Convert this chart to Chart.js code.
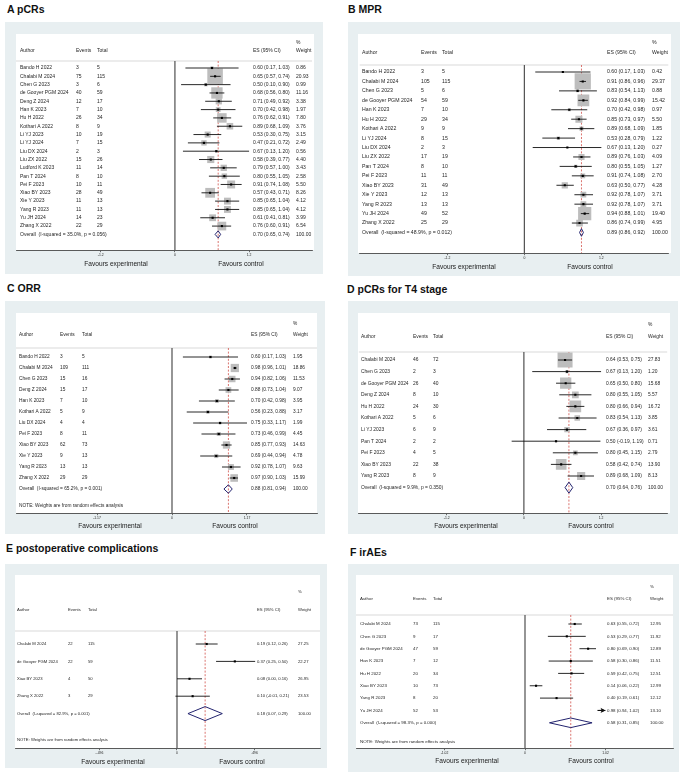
<!DOCTYPE html>
<html><head><meta charset="utf-8">
<script src="https://cdn.jsdelivr.net/npm/chart.js@4.4.1/dist/chart.umd.min.js"></script>
<style>
html,body{margin:0;padding:0;background:#fff;}
body{width:685px;height:775px;position:relative;overflow:hidden;font-family:"Liberation Sans",Arial,sans-serif;}
.title{position:absolute;font-weight:bold;font-size:10.5px;line-height:12px;color:#111;white-space:nowrap;}
.bg{position:absolute;background:#e8eff1;}
.plot{position:absolute;background:#fff;}
canvas{position:absolute;}
</style></head><body>
<script>
// ---------- A pCRs ----------
const authorsA = ['Bando H 2022','Chalabi M 2024','Chen G 2023','de Gooyer PGM 2024','Deng Z 2024','Han K 2023','Hu H 2022','Kothari A 2022','Li YJ 2023','Li YJ 2024','Liu DX 2024','Liu ZX 2022','Ludford K 2023','Pan T 2024','Pei F 2023','Xiao BY 2023','Xie Y 2023','Yang R 2023','Yu JH 2024','Zhang X 2022'];
const eventsA = [3,75,3,40,12,7,26,8,10,7,2,15,11,8,10,28,11,11,14,22];
const totalsA = [5,115,6,59,17,10,34,9,19,15,3,26,14,10,11,49,13,13,23,29];
const esA = [0.60,0.65,0.50,0.68,0.71,0.70,0.76,0.89,0.53,0.47,0.67,0.58,0.79,0.80,0.91,0.57,0.85,0.85,0.61,0.76];
const lowA = [0.17,0.57,0.10,0.56,0.49,0.42,0.62,0.68,0.30,0.21,0.13,0.39,0.57,0.55,0.74,0.43,0.65,0.65,0.41,0.60];
const highA = [1.03,0.74,0.90,0.80,0.92,0.98,0.91,1.09,0.75,0.72,1.20,0.77,1.00,1.05,1.08,0.71,1.04,1.04,0.81,0.91];
const weightA = [0.86,20.93,0.99,11.16,3.38,1.97,7.80,3.76,3.15,2.49,0.56,4.40,3.43,2.58,5.50,8.26,4.12,4.12,3.99,6.54];
const overallA = [0.70,0.65,0.74];
const hetA = 'Overall  (I-squared = 35.0%, p = 0.056)';
const ticksA = [-1.2,0,1.2];
const tickLabelsA = ['-1.2','0','1.2'];

// ---------- B MPR ----------
const authorsB = ['Bando H 2022','Chalabi M 2024','Chen G 2023','de Gooyer PGM 2024','Han K 2023','Hu H 2022','Kothari A 2022','Li YJ 2024','Liu DX 2024','Liu ZX 2022','Pan T 2024','Pei F 2023','Xiao BY 2023','Xie Y 2023','Yang R 2023','Yu JH 2024','Zhang X 2022'];
const eventsB = [3,105,5,54,7,29,9,8,2,17,8,11,31,12,13,49,25];
const totalsB = [5,115,6,59,10,34,9,15,3,19,10,11,49,13,13,52,29];
const esB = [0.60,0.91,0.83,0.92,0.70,0.85,0.89,0.53,0.67,0.89,0.80,0.91,0.63,0.92,0.92,0.94,0.86];
const lowB = [0.17,0.86,0.54,0.84,0.42,0.73,0.68,0.28,0.13,0.76,0.55,0.74,0.50,0.78,0.78,0.88,0.74];
const highB = [1.03,0.96,1.13,0.99,0.98,0.97,1.09,0.79,1.20,1.03,1.05,1.08,0.77,1.07,1.07,1.01,0.99];
const weightB = [0.42,29.37,0.88,15.42,0.97,5.50,1.85,1.22,0.27,4.09,1.27,2.70,4.28,3.71,3.71,19.40,4.95];
const overallB = [0.89,0.86,0.92];
const hetB = 'Overall  (I-squared = 48.9%, p = 0.012)';
const ticksB = [-1.2,0,1.2];
const tickLabelsB = ['-1.2','0','1.2'];

// ---------- C ORR ----------
const authorsC = ['Bando H 2022','Chalabi M 2024','Chen G 2023','Deng Z 2024','Han K 2023','Kothari A 2022','Liu DX 2024','Pei F 2023','Xiao BY 2023','Xie Y 2023','Yang R 2023','Zhang X 2022'];
const eventsC = [3,109,15,15,7,5,4,8,62,9,13,29];
const totalsC = [5,111,16,17,10,9,4,11,73,13,13,29];
const esC = [0.60,0.98,0.94,0.88,0.70,0.56,0.75,0.73,0.85,0.69,0.92,0.97];
const lowC = [0.17,0.96,0.82,0.73,0.42,0.23,0.33,0.46,0.77,0.44,0.78,0.90];
const highC = [1.03,1.01,1.06,1.04,0.98,0.88,1.17,0.99,0.93,0.94,1.07,1.03];
const weightC = [1.95,18.86,11.53,9.07,3.95,3.17,1.99,4.45,14.63,4.78,9.63,15.99];
const overallC = [0.88,0.81,0.94];
const hetC = 'Overall  (I-squared = 65.2%, p = 0.001)';
const ticksC = [-1.17,0,1.17];
const tickLabelsC = ['-1.17','0','1.17'];

// ---------- D pCRs for T4 stage ----------
const authorsD = ['Chalabi M 2024','Chen G 2023','de Gooyer PGM 2024','Deng Z 2024','Hu H 2022','Kothari A 2022','Li YJ 2023','Pan T 2024','Pei F 2023','Xiao BY 2023','Yang R 2023'];
const eventsD = [46,2,26,8,24,5,6,2,4,22,8];
const totalsD = [72,3,40,10,30,6,9,2,5,38,9];
const esD = [0.64,0.67,0.65,0.80,0.80,0.83,0.67,0.50,0.80,0.58,0.89];
const lowD = [0.53,0.13,0.50,0.55,0.66,0.54,0.36,-0.19,0.45,0.42,0.68];
const highD = [0.75,1.20,0.80,1.05,0.94,1.13,0.97,1.19,1.15,0.74,1.09];
const weightD = [27.83,1.20,15.68,5.57,16.72,3.85,3.61,0.71,2.79,13.90,8.13];
const overallD = [0.70,0.64,0.76];
const hetD = 'Overall  (I-squared = 9.9%, p = 0.350)';
const ticksD = [-1.2,0,1.2];
const tickLabelsD = ['-1.2','0','1.2'];

// ---------- E postoperative complications ----------
const authorsE = ['Chalabi M 2024','de Gooyer PGM 2024','Xiao BY 2023','Zhang X 2022'];
const eventsE = [22,22,4,3];
const totalsE = [115,59,50,29];
const esE = [0.19,0.37,0.08,0.10];
const lowE = [0.12,0.25,0.00,-0.01];
const highE = [0.26,0.50,0.16,0.21];
const weightE = [27.25,22.27,26.95,23.53];
const overallE = [0.18,0.07,0.29];
const hetE = 'Overall  (I-squared = 82.9%, p = 0.001)';
const ticksE = [-0.496,0,0.496];
const tickLabelsE = ['-.496','0','.496'];

// ---------- F irAEs ----------
const authorsF = ['Chalabi M 2024','Chen G 2023','de Gooyer PGM 2024','Han K 2023','Hu H 2022','Xiao BY 2023','Yang R 2023','Yu JH 2024'];
const eventsF = [73,9,47,7,20,10,8,52];
const totalsF = [115,17,59,12,34,73,20,53];
const esF = [0.63,0.53,0.80,0.58,0.59,0.14,0.40,0.98];
const lowF = [0.55,0.29,0.69,0.30,0.42,0.06,0.19,0.94];
const highF = [0.72,0.77,0.90,0.86,0.75,0.22,0.61,1.02];
const weightF = [12.95,11.92,12.89,11.51,12.51,12.99,12.12,13.10];
const overallF = [0.58,0.31,0.85];
const hetF = 'Overall  (I-squared = 98.3%, p = 0.000)';
const ticksF = [-1.02,0,1.02];
const tickLabelsF = ['-1.02','0','1.02'];

const headers = ['Author','Events','Total','ES (95% CI)','Weight'];
const noteText = 'NOTE: Weights are from random effects analysis';
const favLabels = ['Favours experimental','Favours control'];
const titles = ['A pCRs','B MPR','C ORR','D pCRs for T4 stage','E postoperative complications','F irAEs'];

// ---------- layout (pixel geometry only) ----------
const layouts = [
 {title:[7,9], bg:[5,22,323,274], white:[16,34,314], axisY:250, pctY:43, headY:51, sepY:61, firstRow:68, rowStep:8.32, cols:[20,76,97,253,296], zero:176, ppu:62.2, box:3.4, dh:3.5, font:5, favY:264, favX:[116,241]},
 {title:[348,9], bg:[348,22,680,276], white:[358,34,671], axisY:253, pctY:43, headY:53, sepY:65, firstRow:72, rowStep:9.44, cols:[362,421,442,607,652], zero:525, ppu:65, box:3.0, dh:3.8, font:5.2, favY:267, favX:[464,590]},
 {title:[7,288], bg:[5,301,325,534], white:[16,313,317], axisY:513, pctY:324, headY:335, sepY:348, firstRow:357, rowStep:11.0, cols:[19,60,82,251,293], zero:172, ppu:64.1, box:1.9, dh:4.2, font:4.8, favY:526, favX:[110,235], noteY:506},
 {title:[347,289], bg:[348,301,678,534], white:[358,313,670], axisY:513, pctY:325, headY:337, sepY:352, firstRow:360, rowStep:11.6, cols:[361,413,433,606,648], zero:525, ppu:65, box:2.85, dh:5.5, font:4.9, favY:526, favX:[466,591]},
 {title:[6,548], bg:[5,564,327,768], white:[15,575,320], axisY:748, pctY:592, headY:610, sepY:631, firstRow:644, rowStep:17.4, cols:[17,68,88,257,298], zero:177, ppu:156.3, box:0, dh:7, font:4.2, favY:762, favX:[113,242], noteY:740},
 {title:[350,552], bg:[348,564,679,772], white:[356,575,673], axisY:748, pctY:587, headY:599, sepY:615, firstRow:624, rowStep:12.35, cols:[360,413,433,607,650], zero:525, ppu:78.9, box:0, dh:4.8, font:4.4, favY:761, favX:[467,591], noteY:742, arrow:true}
];

const panelData = [
 {authors:authorsA, events:eventsA, totals:totalsA, es:esA, low:lowA, high:highA, weight:weightA, overall:overallA, het:hetA, ticks:ticksA, tickLabels:tickLabelsA, note:false},
 {authors:authorsB, events:eventsB, totals:totalsB, es:esB, low:lowB, high:highB, weight:weightB, overall:overallB, het:hetB, ticks:ticksB, tickLabels:tickLabelsB, note:false},
 {authors:authorsC, events:eventsC, totals:totalsC, es:esC, low:lowC, high:highC, weight:weightC, overall:overallC, het:hetC, ticks:ticksC, tickLabels:tickLabelsC, note:true},
 {authors:authorsD, events:eventsD, totals:totalsD, es:esD, low:lowD, high:highD, weight:weightD, overall:overallD, het:hetD, ticks:ticksD, tickLabels:tickLabelsD, note:false},
 {authors:authorsE, events:eventsE, totals:totalsE, es:esE, low:lowE, high:highE, weight:weightE, overall:overallE, het:hetE, ticks:ticksE, tickLabels:tickLabelsE, note:true},
 {authors:authorsF, events:eventsF, totals:totalsF, es:esF, low:lowF, high:highF, weight:weightF, overall:overallF, het:hetF, ticks:ticksF, tickLabels:tickLabelsF, note:true}
];

const FONT = '"Liberation Sans", Arial, sans-serif';
const TXT = '#262626';

function el(tag, cls, css) {
  const e = document.createElement(tag);
  if (cls) e.className = cls;
  Object.assign(e.style, css || {});
  document.body.appendChild(e);
  return e;
}

function buildPanel(k) {
  const L = layouts[k], D = panelData[k];
  const t = el('div','title',{left:L.title[0]+'px', top:(L.title[1]-6)+'px'});
  t.textContent = titles[k];
  const W = L.bg[2]-L.bg[0], H = L.bg[3]-L.bg[1];
  el('div','bg',{left:L.bg[0]+'px', top:L.bg[1]+'px', width:W+'px', height:H+'px'});
  el('div','plot',{left:L.white[0]+'px', top:L.white[1]+'px', width:(L.white[2]-L.white[0])+'px', height:(L.axisY-L.white[1])+'px'});
  const cv = el('canvas',null,{left:L.bg[0]+'px', top:L.bg[1]+'px', width:W+'px', height:H+'px'});
  cv.width = W; cv.height = H;

  const n = D.authors.length;
  const yOf = px => (px - L.firstRow)/L.rowStep;
  const xMin = (L.white[0]-L.zero)/L.ppu, xMax = (L.white[2]-L.zero)/L.ppu;
  const yMin = yOf(L.white[1]), yMax = yOf(L.axisY);
  const ySep = yOf(L.sepY);
  const tMax = D.ticks[D.ticks.length-1];

  const ciData = [];
  D.es.forEach((v,i) => {
    const hi = L.arrow ? Math.min(D.high[i], tMax) : D.high[i];
    ciData.push({x:D.low[i], y:i}, {x:hi, y:i}, {x:null, y:null});
  });
  const dh = L.dh / L.rowStep;
  const o = D.overall;

  const datasets = [
    {label:'points', data:D.es.map((v,i)=>({x:v,y:i})), pointStyle:'rect', pointRadius:1.5, pointHoverRadius:1.5, backgroundColor:'#000', borderWidth:0},
    {label:'ci', data:ciData, showLine:true, spanGaps:false, pointRadius:0, borderColor:'#111', borderWidth:0.9, fill:false},
    {label:'overall', data:[{x:o[1],y:n},{x:o[0],y:n-dh},{x:o[2],y:n},{x:o[0],y:n+dh},{x:o[1],y:n}], showLine:true, pointRadius:0, borderColor:'#22236e', borderWidth:1, fill:false},
    {label:'boxes', data:D.es.map((v,i)=>({x:v,y:i})), pointStyle:'rect', pointRadius:D.weight.map(w => L.box*Math.sqrt(w)/Math.SQRT2), pointHoverRadius:0, backgroundColor:'#bdbdbd', borderWidth:0},
    {label:'overallLine', data:[{x:o[0],y:ySep},{x:o[0],y:yMax}], showLine:true, pointRadius:0, borderColor:'#d2504a', borderWidth:0.8, borderDash:[2,1.6], fill:false},
    {label:'zero', data:[{x:0,y:ySep},{x:0,y:yMax}], showLine:true, pointRadius:0, borderColor:'#505050', borderWidth:1.2, fill:false},
    {label:'sep', data:[{x:xMin,y:ySep},{x:xMax,y:ySep}], showLine:true, pointRadius:0, borderColor:'#cfcfcf', borderWidth:0.8, fill:false}
  ];

  const textPlugin = {
    id:'forestText'+k,
    afterDatasetsDraw(chart) {
      const ctx = chart.ctx, xs = chart.scales.x, ys = chart.scales.y;
      const ox = L.bg[0];
      ctx.save();
      // arrows for clipped CIs
      if (L.arrow) {
        D.high.forEach((h,i) => {
          if (h >= tMax) {
            const tip = xs.getPixelForValue(tMax), yy = ys.getPixelForValue(i);
            ctx.fillStyle = '#111';
            ctx.beginPath();
            ctx.moveTo(tip, yy); ctx.lineTo(tip-5, yy-2.6); ctx.lineTo(tip-3.6, yy); ctx.lineTo(tip-5, yy+2.6);
            ctx.closePath(); ctx.fill();
            ctx.strokeStyle = '#111'; ctx.lineWidth = 1.1;
            ctx.beginPath(); ctx.moveTo(tip-8, yy); ctx.lineTo(tip-2, yy); ctx.stroke();
          }
        });
      }
      ctx.fillStyle = TXT;
      ctx.textBaseline = 'middle';
      ctx.textAlign = 'left';
      ctx.font = L.font + 'px ' + FONT;
      const cx = L.cols.map(c => c - ox);
      const yPct = ys.getPixelForValue(yOf(L.pctY));
      const yHead = ys.getPixelForValue(yOf(L.headY));
      ctx.fillText('%', cx[4], yPct);
      headers.forEach((h,j) => ctx.fillText(h, cx[j], yHead));
      for (let i=0;i<n;i++) {
        const yy = ys.getPixelForValue(i);
        ctx.fillText(D.authors[i], cx[0], yy);
        ctx.fillText(String(D.events[i]), cx[1], yy);
        ctx.fillText(String(D.totals[i]), cx[2], yy);
        ctx.fillText(D.es[i].toFixed(2)+' ('+D.low[i].toFixed(2)+', '+D.high[i].toFixed(2)+')', cx[3], yy);
        ctx.fillText(D.weight[i].toFixed(2), cx[4], yy);
      }
      const yo = ys.getPixelForValue(n);
      ctx.fillText(D.het, cx[0], yo);
      ctx.fillText(o[0].toFixed(2)+' ('+o[1].toFixed(2)+', '+o[2].toFixed(2)+')', cx[3], yo);
      ctx.fillText('100.00', cx[4], yo);
      if (D.note) ctx.fillText(noteText, cx[0], ys.getPixelForValue(yOf(L.noteY)));
      // favours labels
      ctx.font = '6.6px ' + FONT;
      ctx.textAlign = 'center';
      ctx.fillStyle = '#1a1a1a';
      const yFav = L.favY - L.bg[1];
      ctx.fillText(favLabels[0], L.favX[0]-ox, yFav);
      ctx.fillText(favLabels[1], L.favX[1]-ox, yFav);
      ctx.restore();
    }
  };

  new Chart(cv, {
    type:'scatter',
    data:{datasets},
    options:{
      responsive:false, animation:false, devicePixelRatio:window.devicePixelRatio||1,
      layout:{padding:{left:L.white[0]-L.bg[0], right:L.bg[2]-L.white[2], top:L.white[1]-L.bg[1], bottom:0}},
      plugins:{legend:{display:false}, tooltip:{enabled:false}},
      events:[],
      scales:{
        x:{type:'linear', position:'bottom', min:xMin, max:xMax,
           afterBuildTicks:(ax)=>{ ax.ticks = D.ticks.map(v=>({value:v})); },
           afterFit:(s)=>{ s.height = L.bg[3]-L.axisY; },
           ticks:{autoSkip:false, maxRotation:0, minRotation:0, padding:1, color:'#222',
                  font:{size:3.4, family:FONT},
                  callback:(v,i)=>D.tickLabels[i]},
           grid:{display:true, drawOnChartArea:false, drawTicks:true, tickLength:2.2, color:'#333', lineWidth:0.7},
           border:{display:true, color:'#333', width:0.8}},
        y:{type:'linear', reverse:true, min:yMin, max:yMax, display:false}
      }
    },
    plugins:[textPlugin]
  });
}

for (let k=0;k<6;k++) buildPanel(k);
</script>
</body></html>
